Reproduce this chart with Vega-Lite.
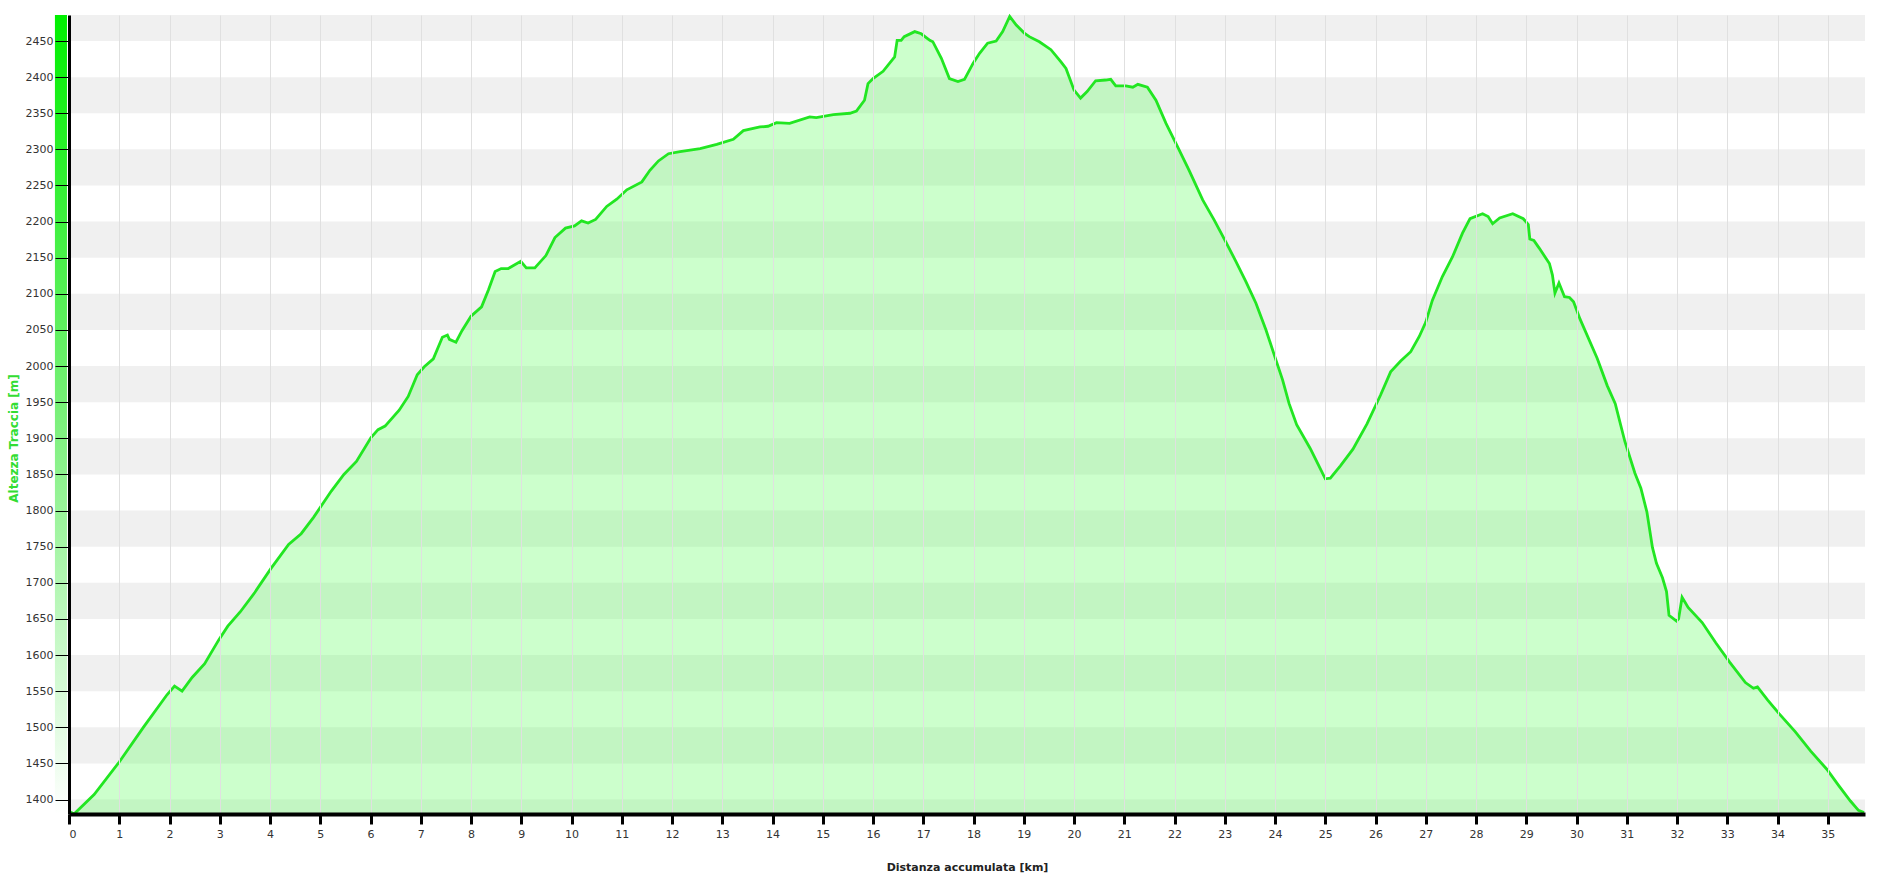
{
  "$schema": "https://vega.github.io/schema/vega-lite/v6.json",
  "width": 1796,
  "height": 799,
  "autosize": "none",
  "padding": {"left": 69, "top": 15, "right": 32, "bottom": 63},
  "background": "white",
  "config": {"view": {"stroke": null}, "font": "DejaVu Sans", "axis": {"labelOverlap": false}, "axisY": {"labelOverlap": false, "tickCount": 22}},
  "datasets": {
    "bands": [
      {"lo": 1350, "hi": 1400}, {"lo": 1450, "hi": 1500}, {"lo": 1550, "hi": 1600},
      {"lo": 1650, "hi": 1700}, {"lo": 1750, "hi": 1800}, {"lo": 1850, "hi": 1900},
      {"lo": 1950, "hi": 2000}, {"lo": 2050, "hi": 2100}, {"lo": 2150, "hi": 2200},
      {"lo": 2250, "hi": 2300}, {"lo": 2350, "hi": 2400}, {"lo": 2450, "hi": 2500}
    ],
    "profile": [
      {"km": 0, "m": 1384}, {"km": 0.1, "m": 1380}, {"km": 0.5, "m": 1407}, {"km": 1.0, "m": 1452},
      {"km": 1.49, "m": 1501}, {"km": 1.95, "m": 1545}, {"km": 2.1, "m": 1557}, {"km": 2.25, "m": 1550},
      {"km": 2.45, "m": 1569}, {"km": 2.7, "m": 1588}, {"km": 2.98, "m": 1621}, {"km": 3.16, "m": 1640},
      {"km": 3.41, "m": 1660}, {"km": 3.7, "m": 1687}, {"km": 4.02, "m": 1720}, {"km": 4.37, "m": 1753},
      {"km": 4.62, "m": 1768}, {"km": 4.87, "m": 1791}, {"km": 5.22, "m": 1827}, {"km": 5.47, "m": 1850},
      {"km": 5.72, "m": 1868}, {"km": 6.01, "m": 1901}, {"km": 6.15, "m": 1912}, {"km": 6.29, "m": 1917},
      {"km": 6.57, "m": 1939}, {"km": 6.75, "m": 1958}, {"km": 6.93, "m": 1988}, {"km": 7.07, "m": 1999},
      {"km": 7.25, "m": 2010}, {"km": 7.43, "m": 2040}, {"km": 7.53, "m": 2043}, {"km": 7.57, "m": 2037},
      {"km": 7.7, "m": 2033}, {"km": 7.82, "m": 2049}, {"km": 8.0, "m": 2069}, {"km": 8.21, "m": 2082},
      {"km": 8.35, "m": 2106}, {"km": 8.48, "m": 2131}, {"km": 8.6, "m": 2135}, {"km": 8.74, "m": 2135},
      {"km": 8.99, "m": 2145}, {"km": 9.1, "m": 2136}, {"km": 9.27, "m": 2136}, {"km": 9.49, "m": 2153},
      {"km": 9.67, "m": 2178}, {"km": 9.88, "m": 2191}, {"km": 10.06, "m": 2194}, {"km": 10.2, "m": 2201},
      {"km": 10.33, "m": 2198}, {"km": 10.48, "m": 2203}, {"km": 10.7, "m": 2221}, {"km": 10.9, "m": 2231},
      {"km": 11.1, "m": 2244}, {"km": 11.4, "m": 2255}, {"km": 11.56, "m": 2271}, {"km": 11.73, "m": 2284},
      {"km": 11.93, "m": 2294}, {"km": 12.16, "m": 2297}, {"km": 12.56, "m": 2301}, {"km": 12.89, "m": 2307},
      {"km": 13.22, "m": 2314}, {"km": 13.42, "m": 2326}, {"km": 13.75, "m": 2331}, {"km": 13.91, "m": 2332},
      {"km": 14.08, "m": 2337}, {"km": 14.34, "m": 2336}, {"km": 14.74, "m": 2345}, {"km": 14.87, "m": 2344},
      {"km": 15.21, "m": 2348}, {"km": 15.54, "m": 2350}, {"km": 15.67, "m": 2353}, {"km": 15.83, "m": 2368},
      {"km": 15.9, "m": 2391}, {"km": 16.0, "m": 2398}, {"km": 16.2, "m": 2408}, {"km": 16.43, "m": 2428},
      {"km": 16.48, "m": 2451}, {"km": 16.56, "m": 2451}, {"km": 16.62, "m": 2456}, {"km": 16.83, "m": 2463},
      {"km": 16.96, "m": 2460}, {"km": 17.13, "m": 2451}, {"km": 17.19, "m": 2449}, {"km": 17.36, "m": 2426},
      {"km": 17.52, "m": 2398}, {"km": 17.69, "m": 2394}, {"km": 17.82, "m": 2397}, {"km": 17.99, "m": 2419},
      {"km": 18.12, "m": 2433}, {"km": 18.28, "m": 2447}, {"km": 18.45, "m": 2450}, {"km": 18.58, "m": 2463},
      {"km": 18.72, "m": 2484}, {"km": 18.85, "m": 2472}, {"km": 19.01, "m": 2461}, {"km": 19.11, "m": 2456},
      {"km": 19.31, "m": 2449}, {"km": 19.54, "m": 2438}, {"km": 19.74, "m": 2421}, {"km": 19.84, "m": 2412},
      {"km": 20.0, "m": 2382}, {"km": 20.13, "m": 2371}, {"km": 20.26, "m": 2380}, {"km": 20.43, "m": 2395},
      {"km": 20.63, "m": 2396}, {"km": 20.73, "m": 2397}, {"km": 20.83, "m": 2388}, {"km": 21.03, "m": 2388},
      {"km": 21.17, "m": 2386}, {"km": 21.27, "m": 2390}, {"km": 21.46, "m": 2386}, {"km": 21.63, "m": 2368},
      {"km": 21.83, "m": 2336}, {"km": 22.03, "m": 2308}, {"km": 22.29, "m": 2271}, {"km": 22.56, "m": 2230},
      {"km": 22.79, "m": 2202}, {"km": 23.02, "m": 2172}, {"km": 23.22, "m": 2145}, {"km": 23.42, "m": 2117},
      {"km": 23.62, "m": 2087}, {"km": 23.82, "m": 2050}, {"km": 24.02, "m": 2008}, {"km": 24.15, "m": 1981},
      {"km": 24.28, "m": 1948}, {"km": 24.43, "m": 1919}, {"km": 24.7, "m": 1886}, {"km": 24.88, "m": 1861},
      {"km": 25.0, "m": 1844}, {"km": 25.1, "m": 1845}, {"km": 25.3, "m": 1862}, {"km": 25.55, "m": 1885},
      {"km": 25.83, "m": 1920}, {"km": 26.1, "m": 1960}, {"km": 26.3, "m": 1992}, {"km": 26.5, "m": 2007},
      {"km": 26.7, "m": 2020}, {"km": 26.87, "m": 2041}, {"km": 27.0, "m": 2061}, {"km": 27.13, "m": 2091},
      {"km": 27.33, "m": 2124}, {"km": 27.53, "m": 2151}, {"km": 27.73, "m": 2184}, {"km": 27.88, "m": 2204},
      {"km": 28.13, "m": 2211}, {"km": 28.24, "m": 2207}, {"km": 28.33, "m": 2197}, {"km": 28.47, "m": 2205},
      {"km": 28.73, "m": 2211}, {"km": 28.94, "m": 2204}, {"km": 29.04, "m": 2196}, {"km": 29.07, "m": 2176},
      {"km": 29.15, "m": 2174}, {"km": 29.26, "m": 2163}, {"km": 29.46, "m": 2142}, {"km": 29.52, "m": 2126},
      {"km": 29.57, "m": 2101}, {"km": 29.65, "m": 2115}, {"km": 29.76, "m": 2096}, {"km": 29.86, "m": 2095},
      {"km": 29.94, "m": 2089}, {"km": 30.07, "m": 2065}, {"km": 30.41, "m": 2011}, {"km": 30.61, "m": 1973},
      {"km": 30.77, "m": 1948}, {"km": 30.96, "m": 1896}, {"km": 31.16, "m": 1852}, {"km": 31.28, "m": 1831},
      {"km": 31.4, "m": 1798}, {"km": 31.51, "m": 1749}, {"km": 31.59, "m": 1727}, {"km": 31.71, "m": 1707},
      {"km": 31.79, "m": 1688}, {"km": 31.84, "m": 1655}, {"km": 31.99, "m": 1647}, {"km": 32.03, "m": 1650},
      {"km": 32.1, "m": 1680}, {"km": 32.22, "m": 1666}, {"km": 32.5, "m": 1645}, {"km": 32.77, "m": 1617},
      {"km": 33.05, "m": 1590}, {"km": 33.36, "m": 1562}, {"km": 33.52, "m": 1554}, {"km": 33.6, "m": 1556},
      {"km": 33.8, "m": 1538}, {"km": 34.03, "m": 1519}, {"km": 34.35, "m": 1494}, {"km": 34.66, "m": 1467},
      {"km": 34.98, "m": 1442}, {"km": 35.21, "m": 1420}, {"km": 35.45, "m": 1398}, {"km": 35.61, "m": 1385},
      {"km": 35.72, "m": 1382}
    ]
  },
  "layer": [
    {
      "data": {"name": "bands"},
      "mark": {"type": "rect", "color": "#f0f0f0", "clip": true},
      "encoding": {
        "y": {
          "field": "lo", "type": "quantitative",
          "scale": {"domain": [1380, 2486], "zero": false, "nice": false},
          "axis": {
            "title": "Altezza Traccia [m]",
            "values": [1400,1450,1500,1550,1600,1650,1700,1750,1800,1850,1900,1950,2000,2050,2100,2150,2200,2250,2300,2350,2400,2450],
            "format": "d",
            "zindex": 1,
            "labelOverlap": false,
            "domainColor": "#000000", "domainWidth": 3,
            "tickColor": "#000000", "tickWidth": 1, "tickSize": 14,
            "labelFontSize": 11, "labelColor": "#333333", "labelPadding": 2, "labelFont": "DejaVu Sans",
            "titleFontSize": 12, "titleFontWeight": "bold", "titleColor": "#33dd33", "titlePadding": 5, "titleFont": "DejaVu Sans",
            "titleY": 423,
            "grid": false
          }
        },
        "y2": {"field": "hi"}
      }
    },
    {
      "data": {"name": "profile"},
      "mark": {
        "type": "rect",
        "color": {
          "gradient": "linear", "x1": 0, "y1": 0, "x2": 0, "y2": 1,
          "stops": [
            {"offset": 0, "color": "#00f000"},
            {"offset": 0.5, "color": "#7af07a"},
            {"offset": 1, "color": "#ffffff"}
          ]
        }
      },
      "transform": [{"filter": "datum.km == 0"}],
      "encoding": {
        "x": {"datum": -0.28, "type": "quantitative"},
        "x2": {"datum": -0.04},
        "y": {"datum": 1380, "type": "quantitative"},
        "y2": {"datum": 2486}
      }
    },
    {
      "data": {"name": "profile"},
      "mark": {"type": "area", "color": "#64ff64", "opacity": 0.33},
      "encoding": {
        "x": {"field": "km", "type": "quantitative"},
        "y": {"field": "m", "type": "quantitative"},
        "y2": {"datum": 1380}
      }
    },
    {
      "data": {"name": "profile"},
      "mark": {"type": "line", "color": "#22e622", "strokeWidth": 2.8},
      "encoding": {
        "x": {
          "field": "km", "type": "quantitative",
          "scale": {"domain": [0, 35.74], "nice": false, "zero": false},
          "axis": {
            "title": "Distanza accumulata [km]",
            "values": [0,1,2,3,4,5,6,7,8,9,10,11,12,13,14,15,16,17,18,19,20,21,22,23,24,25,26,27,28,29,30,31,32,33,34,35],
            "format": "d",
            "zindex": 1,
            "labelOverlap": false,
            "domainColor": "#000000", "domainWidth": 4,
            "tickColor": "#000000", "tickWidth": 3, "tickSize": 10,
            "labelFontSize": 11, "labelColor": "#333333", "labelPadding": 4, "labelFont": "DejaVu Sans",
            "titleFontSize": 11, "titleFontWeight": "bold", "titleColor": "#222222", "titlePadding": 22, "titleFont": "DejaVu Sans",
            "grid": true, "gridColor": "#e0e0e0", "gridWidth": 1
          }
        },
        "y": {"field": "m", "type": "quantitative"}
      }
    }
  ]
}
